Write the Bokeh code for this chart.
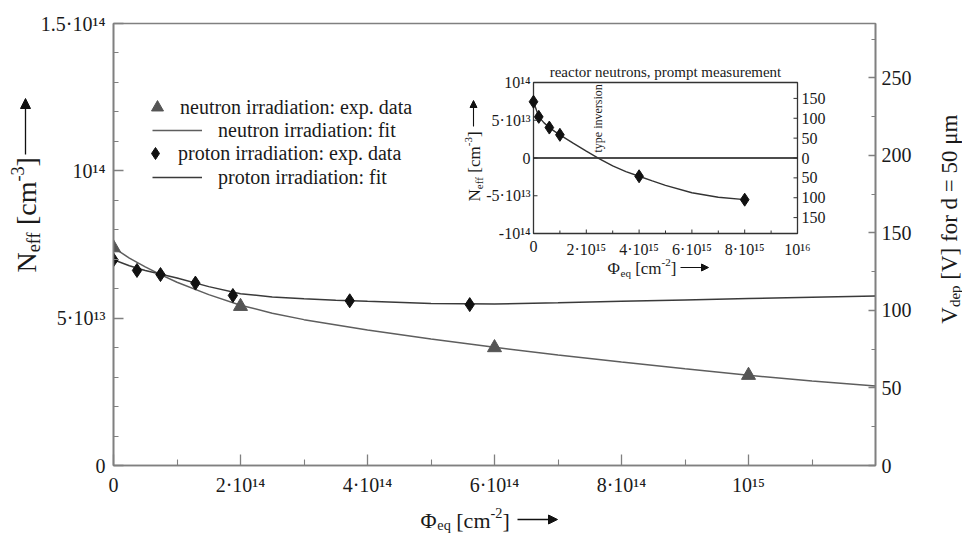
import math
from bokeh.plotting import figure
from bokeh.models import (Range1d, LinearAxis, FixedTicker, Label, Arrow, NormalHead,
                          Legend, LegendItem)
from bokeh.layouts import column, row
from bokeh.embed import file_html
from bokeh.resources import INLINE
from bokeh.core.properties import value

# ---------------- data ----------------
neutron_phi = [0.0, 2.0e14, 6.0e14, 1.0e15]
neutron_neff = [7.39e13, 5.40e13, 4.00e13, 3.06e13]
neutron_fit_phi = [0.0, 0.25e14, 0.5e14, 0.75e14, 1.0e14, 1.5e14, 2.0e14, 2.5e14, 3.0e14,
                   4.0e14, 5.0e14, 6.0e14, 7.0e14, 8.0e14, 9.0e14, 1.0e15, 1.1e15, 1.2e15]
neutron_fit_neff = [7.39e13, 7.04e13, 6.74e13, 6.47e13, 6.22e13, 5.80e13, 5.44e13, 5.17e13, 4.95e13,
                    4.60e13, 4.29e13, 4.01e13, 3.75e13, 3.51e13, 3.28e13, 3.06e13, 2.87e13, 2.70e13]
proton_phi = [0.0, 0.37e14, 0.74e14, 1.29e14, 1.88e14, 3.72e14, 5.61e14]
proton_neff = [6.98e13, 6.62e13, 6.48e13, 6.19e13, 5.77e13, 5.59e13, 5.46e13]
proton_fit_phi = [0.0, 0.25e14, 0.5e14, 0.75e14, 1.0e14, 1.5e14, 2.0e14, 2.5e14, 3.0e14, 3.5e14,
                  4.0e14, 5.0e14, 6.0e14, 7.0e14, 8.0e14, 9.0e14, 1.0e15, 1.1e15, 1.2e15]
proton_fit_neff = [6.98e13, 6.78e13, 6.62e13, 6.49e13, 6.36e13, 6.07e13, 5.83e13, 5.72e13, 5.66e13, 5.61e13,
                   5.57e13, 5.50e13, 5.48e13, 5.52e13, 5.57e13, 5.62e13, 5.67e13, 5.71e13, 5.75e13]

inset_phi = [0.0, 0.2e15, 0.6e15, 1.0e15, 4.0e15, 8.0e15]
inset_neff = [7.45e13, 5.45e13, 4.03e13, 3.07e13, -2.42e13, -5.52e13]
inset_fit_phi = [0.0, 0.2e15, 0.4e15, 0.6e15, 0.8e15, 1.0e15, 1.5e15, 2.0e15, 2.5e15, 3.0e15,
                 3.5e15, 4.0e15, 4.5e15, 5.0e15, 6.0e15, 7.0e15, 8.0e15]
inset_fit_neff = [7.45e13, 5.45e13, 4.65e13, 4.03e13, 3.52e13, 3.07e13, 1.97e13, 0.90e13, -0.12e13, -1.05e13,
                  -1.80e13, -2.42e13, -3.03e13, -3.62e13, -4.60e13, -5.20e13, -5.52e13]

x_ticks = [0.0, 2e14, 4e14, 6e14, 8e14, 1e15]
x_tick_labels = ["0", "2·10¹⁴", "4·10¹⁴", "6·10¹⁴", "8·10¹⁴", "10¹⁵"]
x_minor = [1e14, 3e14, 5e14, 7e14, 9e14, 1.1e15]
y_ticks = [0.0, 5e13, 1e14, 1.5e14]
y_tick_labels = ["0", "5·10¹³", "10¹⁴", "1.5·10¹⁴"]
y_minor = [1e13, 2e13, 3e13, 4e13, 6e13, 7e13, 8e13, 9e13, 1.1e14, 1.2e14, 1.3e14, 1.4e14]
v_ticks = [0, 50, 100, 150, 200, 250]
v_minor = [25, 75, 125, 175, 225, 275]

inset_x_ticks = [0.0, 2e15, 4e15, 6e15, 8e15, 1e16]
inset_x_labels = ["0", "2·10¹⁵", "4·10¹⁵", "6·10¹⁵", "8·10¹⁵", "10¹⁶"]
inset_x_minor = [1e15, 3e15, 5e15, 7e15, 9e15]
inset_y_ticks = [-1e14, -5e13, 0.0, 5e13, 1e14]
inset_y_labels = ["-10¹⁴", "-5·10¹³", "0", "5·10¹³", "10¹⁴"]
inset_v_ticks = [-150, -100, -50, 0, 50, 100, 150]
inset_v_labels = ["150", "100", "50", "0", "50", "100", "150"]

legend_labels = ["neutron irradiation: exp. data", "neutron irradiation: fit",
                 "proton irradiation: exp. data", "proton irradiation: fit"]

# ---------------- geometry (page pixels) ----------------
W, H = 962, 536
FL, FR, FT, FB = 113, 875, 23, 465   # main frame edges on page
X0, X1, Y0, Y1 = 0.0, 1.2e15, 0.0, 1.5e14
V_TOP = 285.0
VPN = V_TOP / Y1
IL, IR, IT, IB = 533, 797, 82, 233   # inset frame edges on page
IX0, IX1, IY0, IY1 = 0.0, 1e16, -1e14, 1e14
DESC = 0.25                          # label anchor correction (fraction of font size)

FONT = "Liberation Serif"
TXT = "#1a1a1a"
AXC = "#808080"


def dx(px):
    return X0 + (px - FL) / (FR - FL) * (X1 - X0)


def dy(py):
    return Y0 + (FB - py) / (FB - FT) * (Y1 - Y0)


p = figure(width=W, height=H, output_backend="svg", toolbar_location=None,
           x_range=Range1d(X0, X1), y_range=Range1d(Y0, Y1),
           min_border_left=FL, min_border_right=W - FR,
           min_border_top=FT, min_border_bottom=H - FB)
p.xgrid.visible = False
p.ygrid.visible = False
p.outline_line_color = AXC
p.outline_line_width = 1.6
p.border_fill_color = "white"

ix_start = IX0 - (IL - FL) / (IR - IL) * (IX1 - IX0)
ix_end = IX1 + (FR - IR) / (IR - IL) * (IX1 - IX0)
iy_start = IY0 - (FB - IB) / (IB - IT) * (IY1 - IY0)
iy_end = IY1 + (IT - FT) / (IB - IT) * (IY1 - IY0)
p.extra_x_ranges = {"ix": Range1d(ix_start, ix_end)}
p.extra_y_ranges = {"vdep": Range1d(0, V_TOP), "iy": Range1d(iy_start, iy_end),
                    "iv": Range1d(iy_start * VPN, iy_end * VPN)}


def style_axis(ax, tick_in, minor_in, standoff, fsize="20px"):
    ax.axis_line_color = AXC
    ax.axis_line_width = 1.6
    ax.major_tick_line_color = AXC
    ax.minor_tick_line_color = AXC
    ax.major_tick_line_width = 1.3
    ax.minor_tick_line_width = 1.1
    ax.major_tick_in = tick_in
    ax.major_tick_out = 0
    ax.minor_tick_in = minor_in
    ax.minor_tick_out = 0
    ax.major_label_text_font = FONT
    ax.major_label_text_font_size = fsize
    ax.major_label_text_color = TXT
    ax.major_label_standoff = standoff


xa = p.xaxis[0]
xa.ticker = FixedTicker(ticks=x_ticks, minor_ticks=x_minor)
xa.major_label_overrides = {t: l for t, l in zip(x_ticks, x_tick_labels)}
style_axis(xa, 11, 6, 8)
ya = p.yaxis[0]
ya.ticker = FixedTicker(ticks=y_ticks, minor_ticks=y_minor)
ya.major_label_overrides = {t: l for t, l in zip(y_ticks, y_tick_labels)}
style_axis(ya, 10, 5, 8)
ra = LinearAxis(y_range_name="vdep", ticker=FixedTicker(ticks=v_ticks, minor_ticks=v_minor))
style_axis(ra, 7, 4, 6)
p.add_layout(ra, "right")

# ---------------- main data ----------------
r_nfit = p.line(neutron_fit_phi, neutron_fit_neff, line_color="#5e5e5e", line_width=1.5)
r_pfit = p.line(proton_fit_phi, proton_fit_neff, line_color="#3a3a3a", line_width=1.5)
r_tri = p.scatter(neutron_phi, neutron_neff, marker="triangle", size=14,
                  fill_color="#555555", line_color="#555555")
r_dia = p.scatter(proton_phi, proton_neff, marker="diamond", size=14,
                  fill_color="#111111", line_color="#111111")

# ---------------- legends ----------------
leg_specs = [
    (r_tri, legend_labels[0], 157 - 15 - FL, FB - (107 + 15), 30, 30, 8),
    (r_nfit, legend_labels[1], 152 - FL, FB - (130 + 12), 50, 24, 16),
    (r_dia, legend_labels[2], 155 - 15 - FL, FB - (153 + 15), 30, 30, 8),
    (r_pfit, legend_labels[3], 152 - FL, FB - (177 + 12), 50, 24, 16),
]
for rend, lab, lx, ly, gw, gh, so in leg_specs:
    lg = Legend(items=[LegendItem(label=lab, renderers=[rend])], location=(lx, ly),
                padding=0, margin=0, spacing=0, glyph_width=gw, glyph_height=gh,
                label_height=gh, label_standoff=so, border_line_color=None,
                background_fill_alpha=0, label_text_font=FONT,
                label_text_font_size="20px", label_text_color=TXT)
    p.add_layout(lg, "center")

# ---------------- inset ----------------
IK = dict(x_range_name="ix", y_range_name="iy")
p.quad(left=[IX0], right=[IX1], bottom=[IY0], top=[IY1], fill_color=None,
       line_color="#333333", line_width=1.3, **IK)
p.line([IX0, IX1], [0.0, 0.0], line_color="#111111", line_width=1.3, **IK)
p.line(inset_fit_phi, inset_fit_neff, line_color="#333333", line_width=1.4, **IK)
p.scatter(inset_phi, inset_neff, marker="diamond", size=13,
          fill_color="#111111", line_color="#111111", **IK)
p.ray(x=inset_x_ticks, y=[IY0] * len(inset_x_ticks), length=4, angle=math.pi / 2,
      length_units="screen", line_color="#333333", line_width=1, **IK)
p.ray(x=inset_x_minor, y=[IY0] * len(inset_x_minor), length=3, angle=math.pi / 2,
      length_units="screen", line_color="#333333", line_width=1, **IK)
p.ray(x=[IX0] * len(inset_y_ticks), y=inset_y_ticks, length=4, angle=0,
      length_units="screen", line_color="#333333", line_width=1, **IK)
p.ray(x=[IX1] * len(inset_v_ticks), y=inset_v_ticks, length=4, angle=math.pi,
      length_units="screen", line_color="#333333", line_width=1,
      x_range_name="ix", y_range_name="iv")
TF = dict(text_font=value(FONT), text_font_size=value("16px"), text_color=TXT)
p.text(x=inset_x_ticks, y=[IY0] * len(inset_x_ticks), text=inset_x_labels,
       text_align="center", text_baseline="top", y_offset=7, **TF, **IK)
p.text(x=[IX0] * len(inset_y_ticks), y=inset_y_ticks, text=inset_y_labels,
       text_align="right", text_baseline="middle", x_offset=-3, **TF, **IK)
p.text(x=[IX1] * len(inset_v_ticks), y=inset_v_ticks, text=inset_v_labels,
       text_align="left", text_baseline="middle", x_offset=4, **TF,
       x_range_name="ix", y_range_name="iv")

# ---------------- transparent overlay figure for the axis titles (not clipped by the frame) ----------------
ov = figure(width=W, height=H, output_backend="svg", toolbar_location=None,
            x_range=Range1d(0, W), y_range=Range1d(0, H),
            x_axis_type=None, y_axis_type=None, min_border=0)
ov.xgrid.visible = False
ov.ygrid.visible = False
ov.outline_line_color = None
ov.background_fill_alpha = 0
ov.border_fill_alpha = 0

conv_main = lambda px, py: (dx(px), dy(py))
conv_ov = lambda px, py: (px, H - py)

WID = {' ': 250, '[': 333, ']': 333, 'c': 444, 'm': 778, '-': 333, 'N': 722, 'e': 444,
       'f': 333, 'Φ': 763, 'q': 500, 'V': 722, 'd': 500, 'p': 500, 'o': 500, 'r': 333,
       '=': 564, 'μ': 500, 'i': 278, 't': 278, 'n': 500, 's': 389, 'a': 444, 'u': 500}


def tw(s, size):
    return sum(WID.get(ch, 500) for ch in s) / 1000.0 * size


def part_size(kind, size):
    return size if kind == "n" else size * 0.65


def rich_len(parts, size):
    return sum(tw(t, part_size(k, size)) for t, k in parts)


def rich(fig, conv, parts, x, y, size, rotated=False, sub=0.17, sup=0.42, color=TXT):
    adv = 0.0
    for txt, kind in parts:
        s = part_size(kind, size)
        shift = 0.0 if kind == "n" else (-sub * size if kind == "sub" else sup * size)
        shift += DESC * s
        lead = len(txt) - len(txt.lstrip(" "))
        adv += tw(" " * lead, s)
        body = txt.lstrip(" ")
        if rotated:
            px, py = x - shift, y - adv
        else:
            px, py = x + adv, y - shift
        lx, ly = conv(px, py)
        fig.add_layout(Label(x=lx, y=ly, text=body, angle=math.pi / 2 if rotated else 0,
                             text_font=FONT, text_font_size=f"{s:.1f}px", text_color=color,
                             text_baseline="alphabetic", text_align="left"))
        adv += tw(body, s)
    return adv


def arrow(fig, conv, x0, y0, x1, y1, size, lw):
    xs, ys = conv(x0, y0)
    xe, ye = conv(x1, y1)
    fig.add_layout(Arrow(end=NormalHead(size=size, fill_color="#111111", line_color="#111111"),
                         x_start=xs, y_start=ys, x_end=xe, y_end=ye,
                         line_color="#111111", line_width=lw))


neff_parts = [("N", "n"), ("eff", "sub"), (" [cm", "n"), ("-3", "sup"), ("]", "n")]
phi_parts = [("Φ", "n"), ("eq", "sub"), (" [cm", "n"), ("-2", "sup"), ("]", "n")]
vdep_parts = [("V", "n"), ("dep", "sub"), (" [V] for d = 50 μm", "n")]

# main axis titles
rich(ov, conv_ov, neff_parts, 33, 272, 28, rotated=True)
arrow(ov, conv_ov, 25, 154, 25, 98, 10, 1.3)
rich(ov, conv_ov, phi_parts, 420, 525, 22, sub=0.16)
arrow(ov, conv_ov, 517, 519, 557, 519, 9, 1.3)
rich(ov, conv_ov, vdep_parts, 955, 219 + rich_len(vdep_parts, 23) / 2, 23, rotated=True, sub=0.12)

# inset titles
rich(p, conv_main, neff_parts, 478, 201, 17, rotated=True)
arrow(p, conv_main, 473, 126, 473, 100, 7, 1.1)
rich(p, conv_main, phi_parts, 607, 272, 17)
arrow(p, conv_main, 680, 267, 708, 267, 7, 1.1)
p.add_layout(Label(x=dx(665), y=dy(75 - DESC * 15), text="reactor neutrons, prompt measurement",
                   text_font=FONT, text_font_size="15px", text_color=TXT,
                   text_align="center", text_baseline="alphabetic"))
p.add_layout(Label(x=dx(600 - DESC * 12), y=dy(152), text="type inversion", angle=math.pi / 2,
                   text_font=FONT, text_font_size="12px", text_color=TXT,
                   text_align="left", text_baseline="alphabetic"))

overlay = row(ov, styles={"position": "absolute", "left": "0px", "top": "0px"})
layout = column(p, overlay)
open("out.html", "w").write(file_html(layout, INLINE))
